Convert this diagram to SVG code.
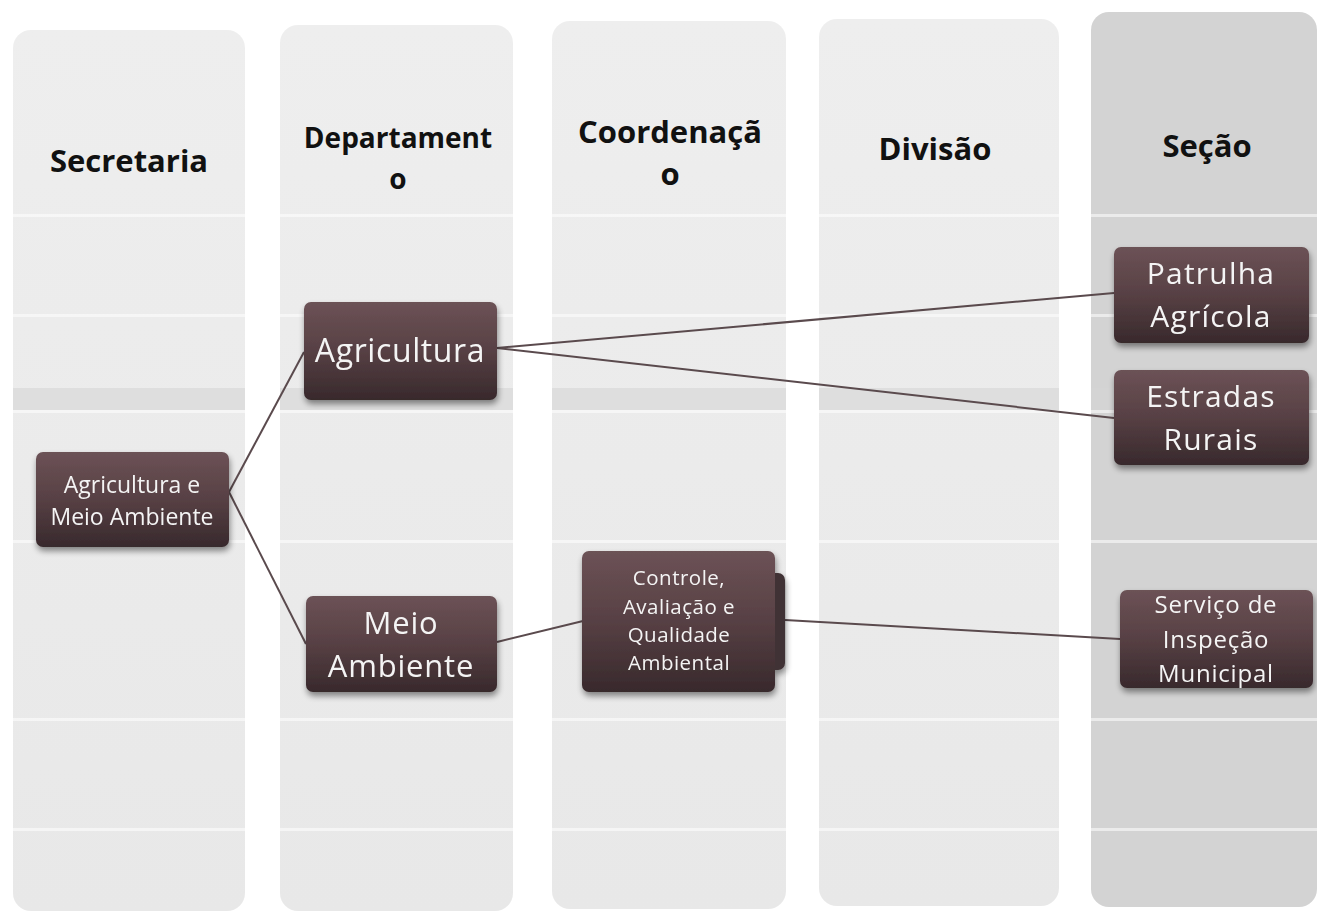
<svg xmlns="http://www.w3.org/2000/svg" width="1317" height="915" viewBox="0 0 1317 915">
<defs>
<linearGradient id="nodeGrad" x1="0" y1="0" x2="0" y2="1">
<stop offset="0" stop-color="#6c5256"/>
<stop offset="0.5" stop-color="#574044"/>
<stop offset="1" stop-color="#38292c"/>
</linearGradient>
<linearGradient id="laneGrad" x1="0" y1="0" x2="0" y2="1">
<stop offset="0" stop-color="#eeeeee"/>
<stop offset="1" stop-color="#e8e8e8"/>
</linearGradient>
<filter id="shadow" x="-10%" y="-10%" width="130%" height="140%">
<feGaussianBlur in="SourceAlpha" stdDeviation="3"/>
<feOffset dx="1" dy="4" result="b"/>
<feComponentTransfer><feFuncA type="linear" slope="0.45"/></feComponentTransfer>
<feMerge><feMergeNode/><feMergeNode in="SourceGraphic"/></feMerge>
</filter>
</defs>
<style>
.lane{fill:url(#laneGrad);}
.lane5{fill:#d3d3d3;}
.band{fill:#ffffff;opacity:0.55;}
.dband{fill:#d6d6d6;opacity:0.6;}
.hdr{font-family:"Open Sans","Liberation Sans",sans-serif;font-weight:bold;fill:#111111;text-anchor:middle;}
.node rect.box{fill:url(#nodeGrad);}
.ntxt{font-family:"Open Sans","Liberation Sans",sans-serif;fill:#f4f4f4;text-anchor:middle;}
.conn{stroke:#5a4a4d;stroke-width:2;fill:none;}
</style>
<rect width="1317" height="915" fill="#ffffff"/>

<g id="lanes">
<rect class="lane" x="13" y="30" width="232" height="881" rx="18"/>
<rect class="lane" x="280" y="25" width="233" height="886" rx="18"/>
<rect class="lane" x="552" y="21" width="234" height="888" rx="18"/>
<rect class="lane" x="819" y="19" width="240" height="887" rx="18"/>
<rect class="lane5" x="1091" y="12" width="226" height="895" rx="18"/>
<g>
<rect class="band" x="13" y="214" width="1304" height="3"/>
<rect class="band" x="13" y="314" width="1304" height="3"/>
<rect class="dband" x="13" y="388" width="1304" height="22"/>
<rect class="band" x="13" y="410" width="1304" height="3"/>
<rect class="band" x="13" y="540" width="1304" height="3"/>
<rect class="band" x="13" y="718" width="1304" height="3"/>
<rect class="band" x="13" y="828" width="1304" height="3"/>
</g>
<rect x="245" y="0" width="35" height="915" fill="#ffffff"/>
<rect x="513" y="0" width="39" height="915" fill="#ffffff"/>
<rect x="786" y="0" width="33" height="915" fill="#ffffff"/>
<rect x="1059" y="0" width="32" height="915" fill="#ffffff"/>
<rect x="0" y="0" width="13" height="915" fill="#ffffff"/>
</g>

<g id="headers">
<text class="hdr" x="129" y="172" font-size="31">Secretaria</text>
<text class="hdr" x="398" y="148" font-size="28">Departament</text>
<text class="hdr" x="398" y="189" font-size="28">o</text>
<text class="hdr" x="670" y="143" font-size="31">Coordenaçã</text>
<text class="hdr" x="670" y="185" font-size="31">o</text>
<text class="hdr" x="935" y="160" font-size="31">Divisão</text>
<text class="hdr" x="1207" y="157" font-size="31">Seção</text>
</g>

<g id="connectors">
<line class="conn" x1="229" y1="492" x2="304" y2="352"/>
<line class="conn" x1="229" y1="492" x2="306" y2="644"/>
<line class="conn" x1="497" y1="348" x2="1114" y2="293"/>
<line class="conn" x1="497" y1="348" x2="1114" y2="418"/>
<line class="conn" x1="497" y1="642" x2="583" y2="621"/>
<line class="conn" x1="785" y1="620" x2="1120" y2="639"/>
</g>

<g id="n-secretaria" class="node" filter="url(#shadow)">
<rect class="box" x="36" y="452" width="193" height="95" rx="7"/>
<text class="ntxt" x="132" y="493" font-size="23">Agricultura e</text>
<text class="ntxt" x="132" y="525" font-size="23">Meio Ambiente</text>
</g>

<g id="n-agricultura" class="node" filter="url(#shadow)">
<rect class="box" x="304" y="302" width="193" height="98" rx="7"/>
<text class="ntxt" x="400" y="362" font-size="32" letter-spacing="0.6">Agricultura</text>
</g>

<g id="n-meioambiente" class="node" filter="url(#shadow)">
<rect class="box" x="306" y="596" width="191" height="96" rx="7"/>
<text class="ntxt" x="401" y="634" font-size="31" letter-spacing="0.8">Meio</text>
<text class="ntxt" x="401" y="677" font-size="31" letter-spacing="0.8">Ambiente</text>
</g>

<g id="n-controle" class="node" filter="url(#shadow)">
<rect x="600" y="573" width="185" height="97" rx="7" fill="#3f3234"/>
<rect class="box" x="582" y="551" width="193" height="141" rx="7"/>
<text class="ntxt" x="679" y="585" font-size="20.5" letter-spacing="0.5">Controle,</text>
<text class="ntxt" x="679" y="614" font-size="20.5" letter-spacing="0.5">Avaliação e</text>
<text class="ntxt" x="679" y="642" font-size="20.5" letter-spacing="0.5">Qualidade</text>
<text class="ntxt" x="679" y="670" font-size="20.5" letter-spacing="0.5">Ambiental</text>
</g>

<g id="n-patrulha" class="node" filter="url(#shadow)">
<rect class="box" x="1114" y="247" width="195" height="96" rx="7"/>
<text class="ntxt" x="1211" y="284" font-size="30" letter-spacing="1.2">Patrulha</text>
<text class="ntxt" x="1211" y="327" font-size="30" letter-spacing="1.2">Agrícola</text>
</g>

<g id="n-estradas" class="node" filter="url(#shadow)">
<rect class="box" x="1114" y="370" width="195" height="95" rx="7"/>
<text class="ntxt" x="1211" y="407" font-size="30" letter-spacing="1.2">Estradas</text>
<text class="ntxt" x="1211" y="450" font-size="30" letter-spacing="1.2">Rurais</text>
</g>

<g id="n-servico" class="node" filter="url(#shadow)">
<rect class="box" x="1120" y="590" width="193" height="98" rx="7"/>
<text class="ntxt" x="1216" y="613" font-size="24" letter-spacing="0.8">Serviço de</text>
<text class="ntxt" x="1216" y="648" font-size="24" letter-spacing="0.8">Inspeção</text>
<text class="ntxt" x="1216" y="682" font-size="24" letter-spacing="0.8">Municipal</text>
</g>
</svg>
